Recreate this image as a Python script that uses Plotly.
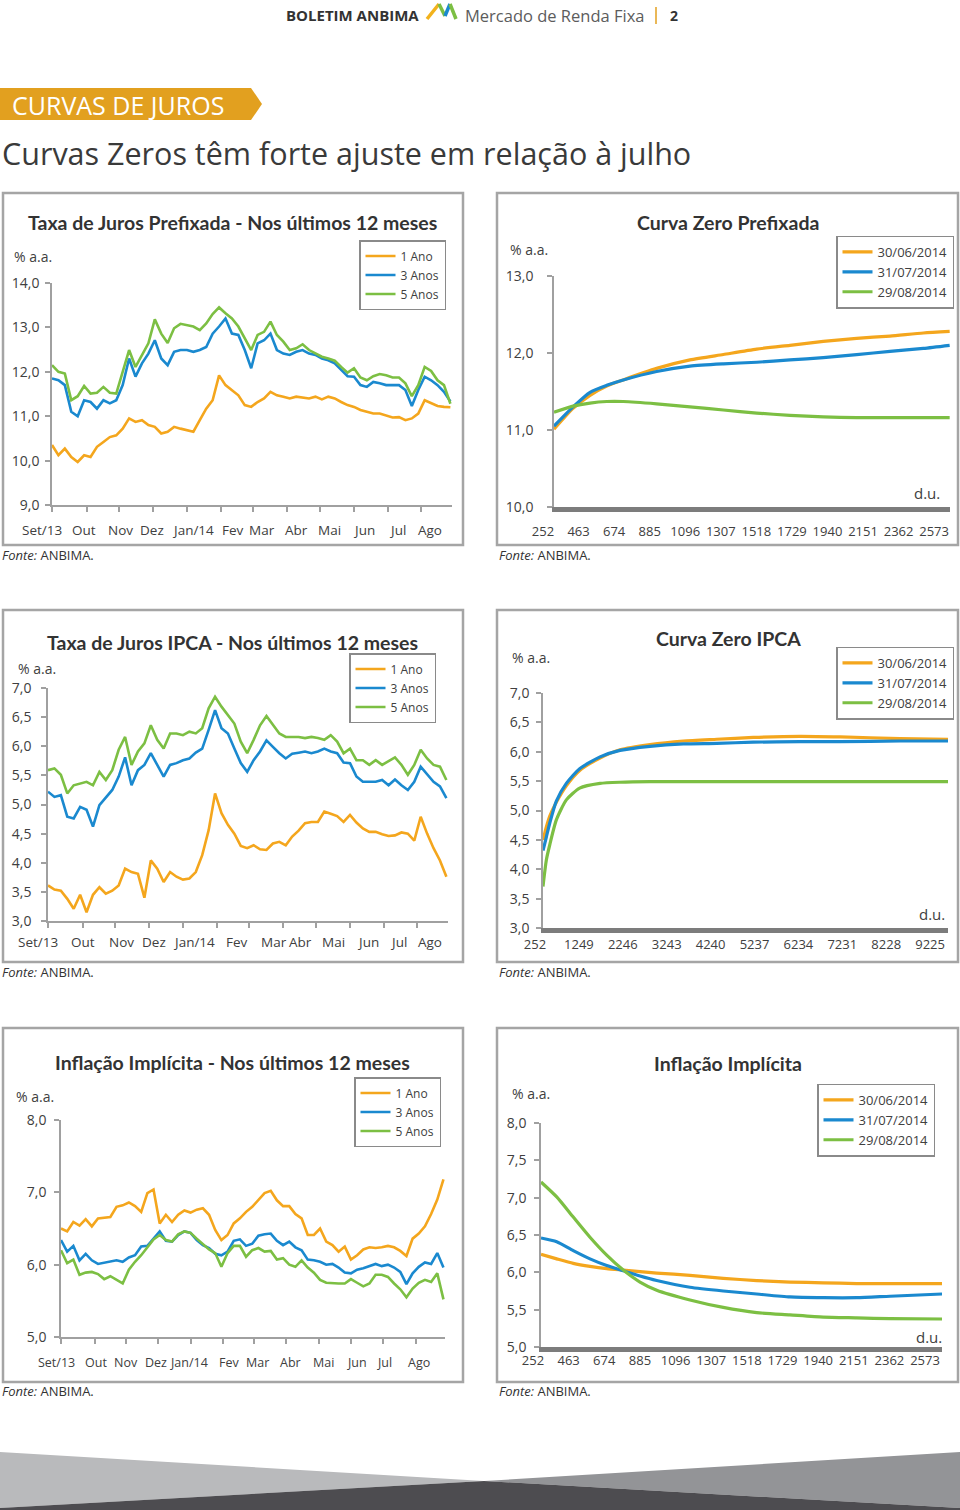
import plotly.graph_objects as go

W, H = 960, 1510
def fx(px): return px / W
def fy(py): return 1 - py / H

ORANGE = '#F4A61D'
BLUE = '#1A89CF'
GREEN = '#7CBF43'
TXT = '#404040'
AXC = '#a0a0a0'
BOX = '#a5a5a5'
FONT = 'Open Sans, Noto Sans, sans-serif'
TFONT = 'Lato, Roboto, sans-serif'

# ---------------- data ----------------
days = list(range(0, 249, 4))          # trading-day index of each reading
month_starts = [0, 22, 42, 63, 84, 105, 125, 146, 167, 188, 209, 230]
month_names = ['Set/13', 'Out', 'Nov', 'Dez', 'Jan/14', 'Fev', 'Mar', 'Abr', 'Mai', 'Jun', 'Jul', 'Ago']
series_names = ['1 Ano', '3 Anos', '5 Anos']
curve_names = ['30/06/2014', '31/07/2014', '29/08/2014']

pre_1a = [10.35, 10.12, 10.27, 10.08, 9.97, 10.12, 10.08, 10.31, 10.42, 10.53,
          10.57, 10.72, 10.95, 10.87, 10.91, 10.80, 10.76, 10.61, 10.65, 10.76,
          10.72, 10.68, 10.65, 10.91, 11.17, 11.36, 11.92, 11.70, 11.59, 11.47,
          11.25, 11.21, 11.32, 11.40, 11.55, 11.47, 11.44, 11.40, 11.44, 11.42,
          11.40, 11.44, 11.38, 11.44, 11.40, 11.32, 11.25, 11.21, 11.14, 11.10,
          11.06, 11.06, 11.02, 10.97, 10.98, 10.91, 10.95, 11.06, 11.36, 11.29,
          11.23, 11.21, 11.20]
pre_3a = [11.85, 11.81, 11.70, 11.10, 11.00, 11.36, 11.32, 11.17, 11.36, 11.29,
          11.36, 11.70, 12.30, 11.89, 12.19, 12.41, 12.71, 12.30, 12.15, 12.45,
          12.49, 12.49, 12.45, 12.49, 12.56, 12.86, 13.02, 13.20, 12.86, 12.83,
          12.49, 12.08, 12.64, 12.71, 12.86, 12.49, 12.41, 12.38, 12.45, 12.49,
          12.41, 12.38, 12.30, 12.26, 12.19, 12.04, 11.90, 11.89, 11.70, 11.66,
          11.77, 11.74, 11.70, 11.70, 11.70, 11.59, 11.23, 11.59, 11.89, 11.81,
          11.70, 11.55, 11.33]
pre_5a = [12.15, 12.00, 11.96, 11.36, 11.45, 11.68, 11.51, 11.53, 11.66, 11.53,
          11.51, 12.00, 12.49, 12.11, 12.38, 12.64, 13.18, 12.86, 12.65, 12.98,
          13.08, 13.05, 13.02, 12.94, 13.09, 13.30, 13.45, 13.32, 13.20, 13.02,
          12.75, 12.49, 12.83, 12.90, 13.13, 12.83, 12.68, 12.49, 12.53, 12.62,
          12.49, 12.41, 12.34, 12.30, 12.25, 12.11, 11.98, 12.08, 11.87, 11.81,
          11.90, 11.95, 11.92, 11.87, 11.87, 11.74, 11.45, 11.70, 12.11, 12.02,
          11.81, 11.70, 11.28]

ipca_1a = [3.61, 3.54, 3.52, 3.38, 3.21, 3.45, 3.15, 3.45, 3.58, 3.47,
           3.52, 3.61, 3.90, 3.84, 3.81, 3.40, 4.04, 3.90, 3.67, 3.84,
           3.76, 3.71, 3.73, 3.84, 4.13, 4.56, 5.19, 4.85, 4.65, 4.50,
           4.29, 4.25, 4.30, 4.23, 4.22, 4.33, 4.36, 4.30, 4.45, 4.55,
           4.68, 4.70, 4.70, 4.88, 4.84, 4.80, 4.70, 4.82, 4.69, 4.59,
           4.53, 4.53, 4.49, 4.46, 4.47, 4.52, 4.50, 4.38, 4.79, 4.50,
           4.25, 4.04, 3.76]
ipca_3a = [5.22, 5.13, 5.16, 4.79, 4.76, 4.96, 4.91, 4.62, 4.99, 5.13,
           5.25, 5.48, 5.81, 5.33, 5.59, 5.68, 5.88, 5.68, 5.48, 5.68,
           5.71, 5.76, 5.79, 5.89, 5.96, 6.28, 6.62, 6.31, 6.22, 5.96,
           5.71, 5.56, 5.76, 5.91, 6.10, 5.99, 5.88, 5.79, 5.87, 5.89,
           5.91, 5.88, 5.91, 5.96, 5.91, 5.88, 5.72, 5.71, 5.48, 5.39,
           5.39, 5.39, 5.42, 5.33, 5.43, 5.33, 5.25, 5.39, 5.65, 5.51,
           5.39, 5.31, 5.11]
ipca_5a = [5.59, 5.62, 5.51, 5.19, 5.33, 5.36, 5.39, 5.33, 5.56, 5.42,
           5.59, 5.94, 6.16, 5.68, 5.91, 6.05, 6.36, 6.11, 5.96, 6.22,
           6.22, 6.19, 6.25, 6.22, 6.31, 6.65, 6.85, 6.68, 6.54, 6.39,
           6.08, 5.88, 6.11, 6.36, 6.52, 6.36, 6.22, 6.16, 6.16, 6.16,
           6.14, 6.16, 6.14, 6.11, 6.19, 6.08, 5.88, 5.96, 5.76, 5.76,
           5.68, 5.76, 5.68, 5.74, 5.81, 5.68, 5.51, 5.68, 5.94, 5.79,
           5.68, 5.65, 5.42]

inf_1a = [6.50, 6.46, 6.59, 6.54, 6.63, 6.53, 6.64, 6.65, 6.66, 6.80,
          6.82, 6.86, 6.81, 6.73, 6.99, 7.04, 6.57, 6.69, 6.59, 6.69,
          6.75, 6.72, 6.76, 6.78, 6.69, 6.48, 6.34, 6.41, 6.57, 6.64,
          6.73, 6.80, 6.90, 6.99, 7.02, 6.89, 6.81, 6.81, 6.70, 6.64,
          6.41, 6.41, 6.50, 6.32, 6.27, 6.18, 6.25, 6.07, 6.13, 6.21,
          6.24, 6.23, 6.24, 6.26, 6.24, 6.19, 6.12, 6.36, 6.43, 6.53,
          6.70, 6.90, 7.18]
inf_3a = [6.34, 6.18, 6.26, 6.06, 6.15, 6.06, 6.01, 6.03, 6.04, 6.06,
          6.04, 6.10, 6.13, 6.25, 6.26, 6.36, 6.46, 6.33, 6.32, 6.41,
          6.46, 6.44, 6.34, 6.27, 6.23, 6.15, 6.13, 6.18, 6.33, 6.35,
          6.26, 6.29, 6.40, 6.42, 6.43, 6.33, 6.27, 6.32, 6.24, 6.20,
          6.07, 6.06, 6.04, 6.00, 6.01, 5.96, 5.89, 5.88, 5.93, 5.95,
          5.98, 6.01, 5.98, 6.00, 5.96, 5.90, 5.73, 5.88, 5.97, 6.03,
          6.01, 6.16, 5.96]
inf_5a = [6.20, 6.02, 6.07, 5.86, 5.89, 5.90, 5.87, 5.80, 5.84, 5.79,
          5.74, 5.93, 6.04, 6.13, 6.24, 6.35, 6.41, 6.34, 6.32, 6.42,
          6.46, 6.44, 6.36, 6.29, 6.21, 6.16, 5.97, 6.16, 6.26, 6.26,
          6.11, 6.20, 6.23, 6.18, 6.19, 6.07, 6.09, 6.00, 5.97, 6.06,
          5.96, 5.89, 5.79, 5.75, 5.74, 5.74, 5.74, 5.80, 5.75, 5.70,
          5.74, 5.86, 5.86, 5.83, 5.74, 5.66, 5.55, 5.67, 5.75, 5.79,
          5.76, 5.88, 5.52]

pz_du = [252, 365, 466, 565, 663, 861, 1059, 1257, 1455, 1652, 1850, 2048, 2246, 2444, 2600]
pz_jun = [11.01, 11.28, 11.45, 11.57, 11.65, 11.80, 11.91, 11.98, 12.05, 12.10, 12.15, 12.19, 12.22, 12.26, 12.28]
pz_jul = [11.05, 11.30, 11.49, 11.58, 11.65, 11.76, 11.83, 11.86, 11.88, 11.91, 11.94, 11.98, 12.02, 12.06, 12.10]
pz_ago = [11.23, 11.31, 11.35, 11.37, 11.37, 11.34, 11.30, 11.26, 11.22, 11.19, 11.17, 11.16, 11.16, 11.16, 11.16]

iz_du = [252, 328, 403, 555, 782, 1085, 1547, 2001, 2682, 3439, 4197, 5028, 6089, 6998, 8361, 9450]
iz_jun = [4.50, 4.72, 4.90, 5.14, 5.42, 5.68, 5.89, 6.03, 6.12, 6.18, 6.21, 6.24, 6.26, 6.25, 6.22, 6.21]
iz_jul = [4.32, 4.55, 4.78, 5.16, 5.46, 5.71, 5.91, 6.02, 6.09, 6.13, 6.14, 6.16, 6.17, 6.17, 6.18, 6.18]
iz_ago = [3.71, 4.16, 4.41, 4.84, 5.18, 5.38, 5.46, 5.48, 5.49, 5.49, 5.49, 5.49, 5.49, 5.49, 5.49, 5.49]

ii_du = [252, 345, 443, 542, 641, 739, 838, 937, 1134, 1331, 1529, 1726, 1923, 2121, 2318, 2626]
ii_jun = [6.24, 6.18, 6.12, 6.08, 6.05, 6.03, 6.01, 5.99, 5.96, 5.92, 5.89, 5.87, 5.86, 5.85, 5.85, 5.85]
ii_jul = [6.46, 6.41, 6.29, 6.18, 6.09, 6.02, 5.95, 5.89, 5.80, 5.75, 5.71, 5.67, 5.66, 5.66, 5.68, 5.71]
ii_ago = [7.21, 7.01, 6.74, 6.47, 6.23, 6.03, 5.87, 5.76, 5.63, 5.53, 5.46, 5.43, 5.40, 5.39, 5.38, 5.375]

du_ticks_pre = [252, 463, 674, 885, 1096, 1307, 1518, 1729, 1940, 2151, 2362, 2573]
du_ticks_ipca = [252, 1249, 2246, 3243, 4240, 5237, 6234, 7231, 8228, 9225]

colors = [ORANGE, BLUE, GREEN]
DAY_RANGE = [0, 249]

# ---------------- figure ----------------
fig = go.Figure()

def xa(n): return 'x' if n == 1 else f'x{n}'
def ya(n): return 'y' if n == 1 else f'y{n}'
def lg(n): return 'legend' if n == 1 else f'legend{n}'
def key(prefix, n): return prefix if n == 1 else f'{prefix}{n}'

def add_series(n, xs, ys_list, names, width, spline=False):
    for name, ys, col in zip(names, ys_list, colors):
        fig.add_trace(go.Scatter(
            x=xs, y=ys, mode='lines', name=name,
            line=dict(color=col, width=width, shape='spline' if spline else 'linear', smoothing=0.6),
            xaxis=xa(n), yaxis=ya(n), legend=lg(n), hoverinfo='skip'))

add_series(1, days, [pre_1a, pre_3a, pre_5a], series_names, 2.6)
add_series(2, pz_du, [pz_jun, pz_jul, pz_ago], curve_names, 3.2, True)
add_series(3, days, [ipca_1a, ipca_3a, ipca_5a], series_names, 2.6)
add_series(4, iz_du, [iz_jun, iz_jul, iz_ago], curve_names, 3.2, True)
add_series(5, days, [inf_1a, inf_3a, inf_5a], series_names, 2.6)
add_series(6, ii_du, [ii_jun, ii_jul, ii_ago], curve_names, 3.2, True)

layout = {}
annotations = []
shapes = []

def time_axes(n, x0, x1, ytop, ybot, yr, ydt, standoff):
    layout[key('xaxis', n)] = dict(
        domain=[fx(x0), fx(x1)], range=DAY_RANGE, anchor=ya(n), automargin=False,
        showline=True, linecolor=AXC, linewidth=1.5,
        ticks='outside', ticklen=5, tickwidth=1.5, tickcolor=AXC,
        tickmode='array', tickvals=month_starts, showticklabels=False,
        showgrid=False, zeroline=False, fixedrange=True)
    layout[key('yaxis', n)] = dict(
        domain=[fy(ybot), fy(ytop)], range=yr, anchor=xa(n), automargin=False,
        showline=True, linecolor=AXC, linewidth=1.5,
        ticks='outside', ticklen=5, tickwidth=1.5, tickcolor=AXC,
        tick0=yr[0], dtick=ydt, tickformat='.1f', ticklabelstandoff=standoff,
        tickfont=dict(size=14, color=TXT, family=FONT),
        showgrid=False, zeroline=False, fixedrange=True)

def curve_axes(n, x0, x1, xr, xt, shift, ytop, ybot, yr, ydt, ystand, xstand, xfs):
    layout[key('xaxis', n)] = dict(
        domain=[fx(x0), fx(x1)], range=xr, anchor=ya(n), automargin=False,
        showline=True, linecolor='#7c7c7c', linewidth=5,
        ticks='', tickmode='array', tickvals=xt, ticktext=[str(v) for v in xt],
        ticklabelshift=shift, ticklabelstandoff=xstand,
        tickfont=dict(size=xfs, color=TXT, family=FONT),
        showgrid=False, zeroline=False, fixedrange=True)
    layout[key('yaxis', n)] = dict(
        domain=[fy(ybot), fy(ytop)], range=yr, anchor=xa(n), automargin=False,
        showline=True, linecolor=AXC, linewidth=1.5,
        ticks='outside', ticklen=5, tickwidth=1.5, tickcolor=AXC,
        tick0=yr[0], dtick=ydt, tickformat='.1f', ticklabelstandoff=ystand,
        tickfont=dict(size=14, color=TXT, family=FONT),
        showgrid=False, zeroline=False, fixedrange=True)

time_axes(1, 52, 452, 283, 505, [9, 14], 1, 3)
time_axes(3, 48, 448, 688, 921, [3, 7], 0.5, 7)
time_axes(5, 61, 445, 1120, 1337, [5, 8], 1, 5)
curve_axes(2, 554, 950, [252, 2602], du_ticks_pre, -11, 276, 507, [10, 13], 1, 11, 8, 13)
curve_axes(4, 543, 948, [252, 9450], du_ticks_ipca, -8, 692.7, 928.3, [3, 7], 0.5, 4, 0, 13)
curve_axes(6, 541, 942, [252, 2626], du_ticks_pre, -8, 1123, 1347, [5, 8], 0.5, 5, -3, 13)

# legends
def legend(n, left, cy, size):
    layout[lg(n)] = dict(
        x=fx(left), y=fy(cy), xanchor='left', yanchor='middle',
        bgcolor='white', bordercolor='#8a8a8a', borderwidth=1.5,
        font=dict(size=size, color=TXT, family=FONT),
        itemwidth=30, tracegroupgap=0, traceorder='normal')

legend(1, 359, 275, 12)
legend(2, 836, 272, 13)
legend(3, 349, 688, 12)
legend(4, 836, 683, 13)
legend(5, 354, 1112, 12)
legend(6, 817, 1120, 13)

def note(text, x, y, size, color=TXT, anchor='left', family=FONT, xref='paper', xval=None):
    annotations.append(dict(
        text=text, x=fx(x) if xval is None else xval, y=fy(y), xref=xref, yref='paper',
        xanchor=anchor, yanchor='middle', showarrow=False,
        font=dict(size=size, color=color, family=family)))

# month labels (positions in trading days, placed via the axis domain)
month_label_pos = {
    1: [-6, 20, 42.5, 62.5, 87.5, 112.5, 131, 152, 172.5, 194, 215, 235],
    3: [-6, 22, 45.6, 66, 91, 117.5, 140.6, 157, 178, 199, 218, 237.5],
    5: [-2.6, 22.8, 42.3, 61.8, 83.3, 108.7, 127.6, 149, 170, 192, 210, 232],
}
month_label_y = {1: (530, 13.5), 3: (942, 13.5), 5: (1362, 12.5)}
for n, pos in month_label_pos.items():
    yy, fs = month_label_y[n]
    for p, lab in zip(pos, month_names):
        frac = (p - DAY_RANGE[0]) / (DAY_RANGE[1] - DAY_RANGE[0])
        note(lab, 0, yy, fs, anchor='center', xref=xa(n) + ' domain', xval=frac)

# titles
titles = [
    ('Taxa de Juros Prefixada - Nos últimos 12 meses', 232, 223),
    ('Curva Zero Prefixada', 728, 223),
    ('Taxa de Juros IPCA - Nos últimos 12 meses', 232, 642),
    ('Curva Zero IPCA', 728, 638),
    ('Inflação Implícita - Nos últimos 12 meses', 232, 1062),
    ('Inflação Implícita', 728, 1063),
]
for t, x, y in titles:
    note(f'<b>{t}</b>', x, y, 19.5, color='#333333', anchor='center', family=TFONT)

for x, y in [(12, 256), (508, 250), (16, 668), (510, 658), (14, 1096), (510, 1093)]:
    note('% a.a.', x, y, 14)
for x, y in [(942, 493), (947, 914), (944, 1337)]:
    note('d.u.', x, y, 15, anchor='right')
for x, y in [(0, 555), (497, 555), (0, 972), (497, 972), (0, 1391), (497, 1391)]:
    note('<i>Fonte:</i> ANBIMA.', x, y, 13, color='#333333')

# boxes
for x0, y0, x1, y1 in [(3, 193, 463, 545), (497, 193, 958, 545), (3, 610, 463, 962),
                       (497, 610, 958, 962), (3, 1028, 463, 1382), (497, 1028, 958, 1382)]:
    shapes.append(dict(type='rect', xref='paper', yref='paper', x0=fx(x0), x1=fx(x1),
                       y0=fy(y1), y1=fy(y0), line=dict(color=BOX, width=2.5),
                       fillcolor='rgba(0,0,0,0)', layer='below'))

def path(points):
    return 'M ' + ' L '.join(f'{fx(a):.5f},{fy(b):.5f}' for a, b in points) + ' Z'

# header
note('<b>BOLETIM ANBIMA</b>', 284, 15, 15, color='#333333')
note('Mercado de Renda Fixa', 463, 15, 16.5, color='#5c5c5c')
note('<b>2</b>', 668, 15, 14, color='#333333')
shapes.append(dict(type='line', xref='paper', yref='paper', x0=fx(656), x1=fx(656),
                   y0=fy(24), y1=fy(7), line=dict(color='#E3A11F', width=1.5)))
for (a, b), (c, d), col in [((427, 19), (439, 4), '#F2B21C'), ((439, 4), (445, 16), '#7CBF43'),
                            ((445, 16), (450, 4), '#1A89CF'), ((450, 4), (456, 19), '#7CBF43')]:
    shapes.append(dict(type='line', xref='paper', yref='paper', x0=fx(a), y0=fy(b),
                       x1=fx(c), y1=fy(d), line=dict(color=col, width=3.5)))

shapes.append(dict(type='path', xref='paper', yref='paper',
                   path=path([(0, 88), (251, 88), (262, 104), (251, 120), (0, 120)]),
                   fillcolor='#E2A01F', line=dict(width=0), layer='below'))
note('CURVAS DE JUROS', 10, 105, 25, color='white')
note('Curvas Zeros têm forte ajuste em relação à julho', 0, 153, 30.5, color='#3a3a3a')

# bottom band
shapes.append(dict(type='path', xref='paper', yref='paper', path=path([(0, 1452), (484, 1481), (0, 1508)]),
                   fillcolor='#b9babc', line=dict(width=0)))
shapes.append(dict(type='path', xref='paper', yref='paper', path=path([(960, 1452), (484, 1481), (960, 1508)]),
                   fillcolor='#939497', line=dict(width=0)))
shapes.append(dict(type='path', xref='paper', yref='paper',
                   path=path([(0, 1510), (0, 1508), (484, 1481), (960, 1508), (960, 1510)]),
                   fillcolor='#4d4c50', line=dict(width=0)))

fig.update_layout(
    width=W, height=H, margin=dict(l=0, r=0, t=0, b=0, pad=0, autoexpand=False),
    paper_bgcolor='white', plot_bgcolor='rgba(0,0,0,0)',
    separators=',.', showlegend=True,
    font=dict(family=FONT, color=TXT),
    annotations=annotations, shapes=shapes, **layout)

fig.write_html('out.html', config={'displayModeBar': False},
               post_script="document.body.style.margin='0px';")
